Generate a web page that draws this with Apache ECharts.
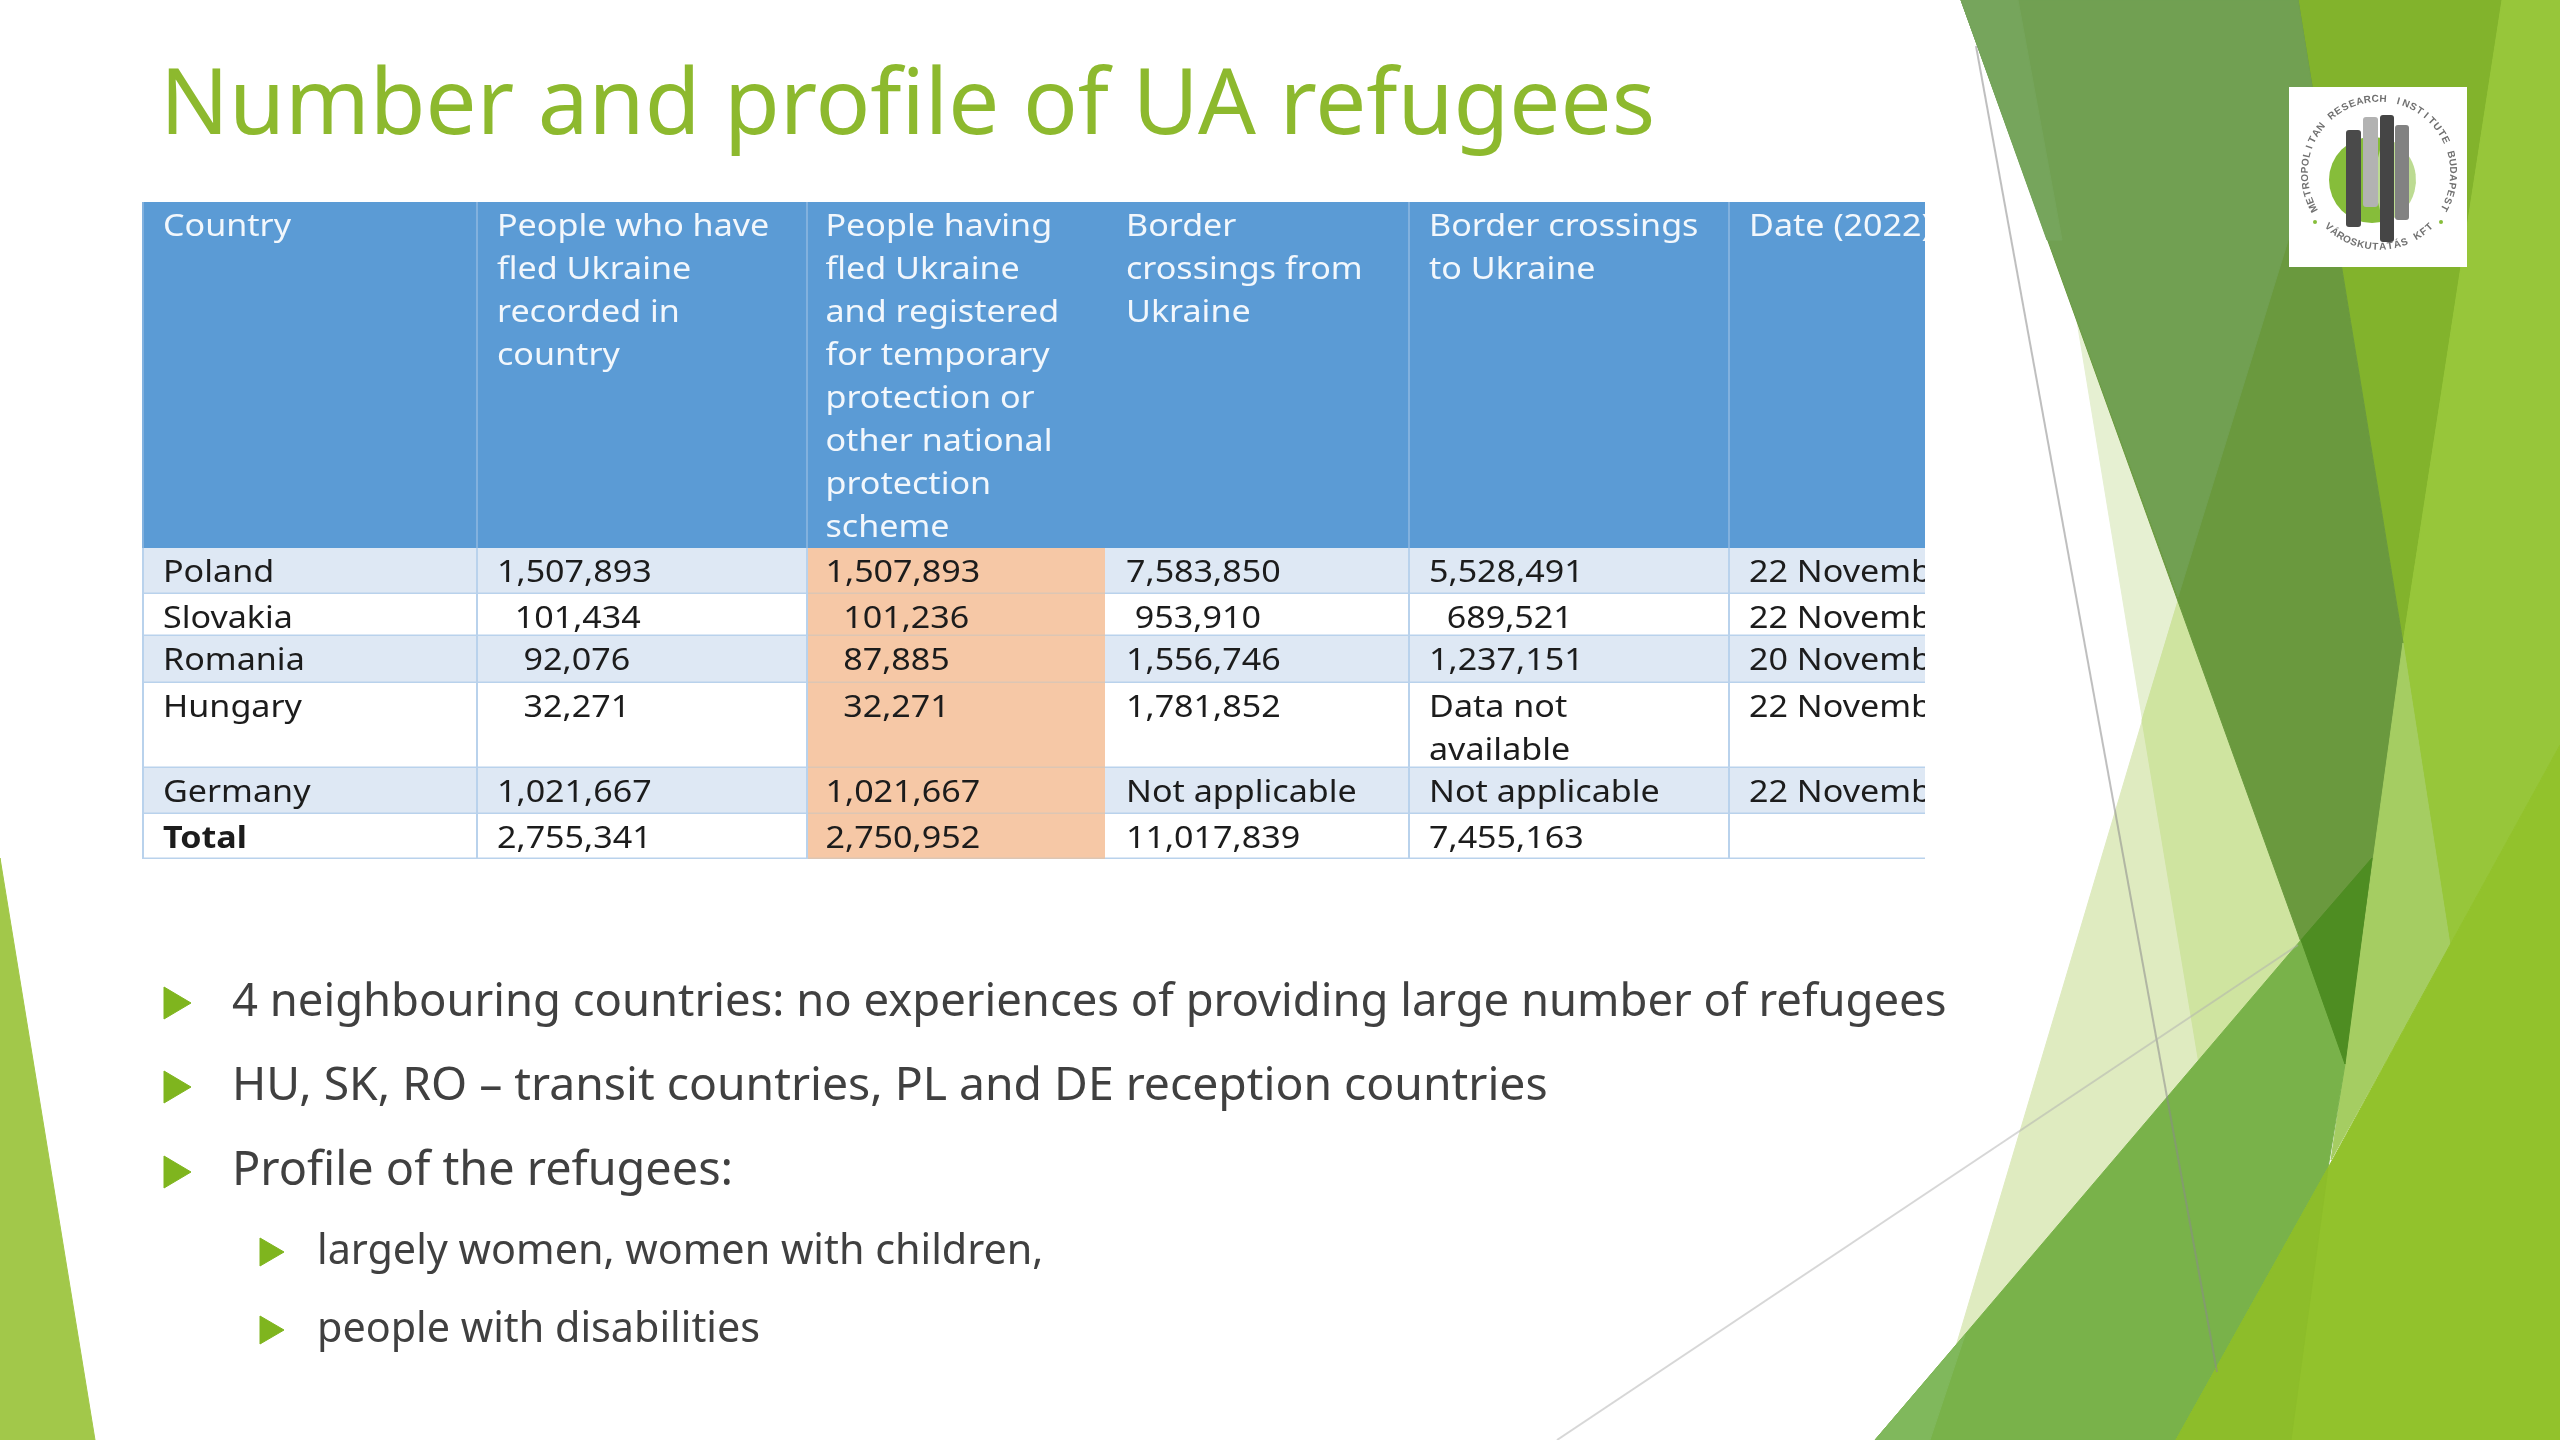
<!DOCTYPE html>
<html>
<head>
<meta charset="utf-8">
<title>Number and profile of UA refugees</title>
<style>html,body{margin:0;padding:0;background:#fff}</style>
</head>
<body>
<div id="main" style="width:2560px;height:1440px;"></div>
<script src="https://cdn.jsdelivr.net/npm/echarts@6/dist/echarts.min.js"></script>
<script type="text/javascript">
'use strict'

// table content, one list per column, first entry is the header
var countries = ['Country', 'Poland', 'Slovakia', 'Romania', 'Hungary', 'Germany', 'Total'];
var recorded = ['People who have\nfled Ukraine\nrecorded in\ncountry', '1,507,893', '  101,434', '   92,076', '   32,271', '1,021,667', '2,755,341'];
var registered = ['People having\nfled Ukraine\nand registered\nfor temporary\nprotection or\nother national\nprotection\nscheme', '1,507,893', '  101,236', '  87,885', '  32,271', '1,021,667', '2,750,952'];
var crossingsFrom = ['Border\ncrossings from\nUkraine', '7,583,850', ' 953,910', '1,556,746', '1,781,852', 'Not applicable', '11,017,839'];
var crossingsTo = ['Border crossings\nto Ukraine', '5,528,491', '  689,521', '1,237,151', 'Data not\navailable', 'Not applicable', '7,455,163'];
var dates = ['Date (2022)', '22 November', '22 November', '20 November', '22 November', '22 November', ''];
var tableColumns = [countries, recorded, registered, crossingsFrom, crossingsTo, dates];

var bullets = [
    '4 neighbouring countries: no experiences of providing large number of refugees',
    'HU, SK, RO \u2013 transit countries, PL and DE reception countries',
    'Profile of the refugees:'
];
var subBullets = ['largely women, women with children,', 'people with disabilities'];

// layout of the table, in pixels from its top left corner
var columnEdges = [0, 334, 664, 963, 1266, 1586, 1783];
var rowEdges = [0, 346, 392, 434, 481, 566, 612, 657];

var tableFont = '"Noto Sans"';
var bodyFont = '"Noto Sans"';

var cells = [];
tableColumns.forEach(function (col, c) {
    col.forEach(function (t, r) { cells.push([c, r]); });
});

function renderCell(params, api) {
    var c = api.value(0), r = api.value(1);
    var p0 = api.coord([columnEdges[c], rowEdges[r]]);
    var p1 = api.coord([columnEdges[c + 1], rowEdges[r + 1]]);
    var isHead = r === 0;
    var fill = isHead ? '#5b9bd5' : (r % 2 === 1 ? '#dee8f4' : '#ffffff');
    if (c === 2 && !isHead) fill = '#f6c8a6';
    var lineCol = isHead ? '#82b1de' : (c === 2 ? '#dcc6b4' : '#b9d2ec');
    var kids = [
        { type: 'rect', shape: { x: p0[0], y: p0[1], width: p1[0] - p0[0], height: p1[1] - p0[1] }, style: { fill: fill } },
        { type: 'line', shape: { x1: p0[0], y1: p1[1], x2: p1[0], y2: p1[1] }, style: { stroke: isHead ? '#5b9bd5' : lineCol, lineWidth: 3 } }
    ];
    if (c !== 3) {
        kids.push({ type: 'line', shape: { x1: p0[0] + 1, y1: p0[1], x2: p0[0] + 1, y2: p1[1] }, style: { stroke: isHead ? '#82b1de' : '#b9d2ec', lineWidth: 2 } });
    }
    kids.push({
        type: 'text',
        x: p0[0] + (c === 2 ? 19.5 : 21),
        y: p0[1] + 4,
        scaleX: 1.136,
        style: {
            text: tableColumns[c][r],
            fill: isHead ? '#f2f7fc' : '#1c1c1c',
            font: (c === 0 && r === 6 ? 'bold ' : '') + '30px ' + tableFont,
            lineHeight: 43,
            align: 'left',
            verticalAlign: 'top'
        }
    });
    return { type: 'group', children: kids };
}

function poly(points, fill, opacity) {
    return { type: 'polygon', silent: true, shape: { points: points }, style: { fill: fill, stroke: fill, lineWidth: 1, opacity: opacity === undefined ? 1 : opacity } };
}

// slide theme shapes
var shapes = [
    poly([[0, 858], [95, 1440], [0, 1440]], '#a2c84a'),
    poly([[2077, 321], [2301, 940], [2205, 1100]], '#e6f0d2'),
    poly([[2178, 601], [2301, 940], [1935, 1440], [1940, 1400]], '#dfebc0'),
    poly([[2142, 720], [2178, 601], [2301, 940], [2205, 1100]], '#cfe4a0'),
    poly([[2298, 0], [2502, 0], [2403, 643]], '#82b32c'),
    poly([[2502, 0], [2560, 0], [2560, 745], [2450, 945], [2403, 643]], '#97c63a'),
    poly([[1961, 0], [2298, 0], [2403, 643], [2345, 1064]], '#6a993e'),
    poly([[1961, 0], [2298, 0], [2320, 137], [2178, 597]], '#71a052'),
    poly([[1961, 0], [2018, 0], [2062, 240], [2047, 240]], '#76a55c'),
    poly([[2403, 643], [2450, 945], [2331, 1160], [2345, 1064]], '#a5cd62'),
    poly([[1875, 1440], [2301, 940], [2345, 1064], [2328, 1168], [2176, 1440]], '#79b24a'),
    poly([[1875, 1440], [1930, 1440], [1965, 1335]], '#80b85c'),
    poly([[2301, 940], [2372, 858], [2345, 1064]], '#4e8d22'),
    poly([[2176, 1440], [2328, 1168], [2450, 945], [2560, 745], [2560, 1440]], '#92c22c'),
    poly([[2176, 1440], [2291, 1440], [2328, 1168]], '#8dbd2a'),
    { type: 'line', silent: true, shape: { x1: 1976, y1: 46, x2: 2217, y2: 1372 }, style: { stroke: '#8a8a8a', opacity: 0.55, lineWidth: 2 } },
    { type: 'line', silent: true, shape: { x1: 1557, y1: 1440, x2: 2298, y2: 945 }, style: { stroke: '#b0b0b0', opacity: 0.5, lineWidth: 2 } }
];

// logo
var logoText = 'METROPOLITAN RESEARCH INSTITUTE BUDAPEST';
var logoSub = 'V\u00c1ROSKUTAT\u00c1S KFT';
var logo = [
    { type: 'rect', silent: true, shape: { x: 2289, y: 87, width: 178, height: 180 }, style: { fill: '#ffffff' } },
    { type: 'circle', silent: true, shape: { cx: 2372, cy: 180, r: 43 }, style: { fill: '#86bd3a' } },
    { type: 'sector', silent: true, shape: { cx: 2372, cy: 180, r: 44, startAngle: -Math.PI / 2.4, endAngle: Math.PI / 2.4 }, style: { fill: '#bcdb92' } },
    { type: 'rect', silent: true, shape: { x: 2346, y: 130, width: 15, height: 97, r: 3 }, style: { fill: '#4a4a4a' } },
    { type: 'rect', silent: true, shape: { x: 2363, y: 117, width: 15, height: 90, r: 3 }, style: { fill: '#b2b2b2' } },
    { type: 'rect', silent: true, shape: { x: 2380, y: 115, width: 14, height: 127, r: 3 }, style: { fill: '#454545' } },
    { type: 'rect', silent: true, shape: { x: 2395, y: 125, width: 14, height: 95, r: 3 }, style: { fill: '#828282' } },
    { type: 'circle', silent: true, shape: { cx: 2315, cy: 222, r: 2 }, style: { fill: '#86bd3a' } },
    { type: 'circle', silent: true, shape: { cx: 2441, cy: 222, r: 2 }, style: { fill: '#86bd3a' } }
];
logoText.split('').forEach(function (ch, i) {
    var a = (-118 + 236 * i / (logoText.length - 1)) * Math.PI / 180;
    logo.push({
        type: 'text', silent: true, x: 2379 + 74 * Math.sin(a), y: 173 - 74 * Math.cos(a), rotation: -a,
        style: { text: ch, fill: '#707070', font: 'bold 10px "Liberation Sans"', align: 'center', verticalAlign: 'middle' }
    });
});
logoSub.split('').forEach(function (ch, i) {
    var a = (-43 + 86 * i / (logoSub.length - 1)) * Math.PI / 180;
    logo.push({
        type: 'text', silent: true, x: 2379 + 74 * Math.sin(a), y: 173 + 74 * Math.cos(a), rotation: a,
        style: { text: ch, fill: '#707070', font: 'bold 10px "Liberation Sans"', align: 'center', verticalAlign: 'middle' }
    });
});

// bullet list
var textEls = [];
var bulletY = [1003, 1087, 1172];
var bulletSize = [45.4, 46.3, 46.8];
var subY = [1252, 1330];
bullets.forEach(function (t, i) {
    textEls.push(poly([[164, bulletY[i] - 16], [191, bulletY[i]], [164, bulletY[i] + 16]], '#7fb51e'));
    textEls.push({ type: 'text', silent: true, x: 232, y: bulletY[i], style: { text: t, fill: '#404040', font: bulletSize[i] + 'px ' + bodyFont, align: 'left', verticalAlign: 'middle' } });
});
subBullets.forEach(function (t, i) {
    textEls.push(poly([[260, subY[i] - 14], [284, subY[i]], [260, subY[i] + 14]], '#7fb51e'));
    textEls.push({ type: 'text', silent: true, x: 317, y: subY[i], style: { text: t, fill: '#404040', font: '41.3px ' + bodyFont, align: 'left', verticalAlign: 'middle' } });
});

var myChart = echarts.init(document.getElementById('main'));
var option = {
    animation: false,
    backgroundColor: '#ffffff',
    title: {
        text: 'Number and profile of UA refugees',
        left: 155,
        top: 58,
        textStyle: { color: '#8db92e', fontSize: 90.7, fontWeight: 'normal', fontFamily: bodyFont }
    },
    grid: { left: 142, top: 202, width: 1783, height: 657 },
    xAxis: { type: 'value', min: 0, max: 1783, show: false },
    yAxis: { type: 'value', min: 0, max: 657, inverse: true, show: false },
    graphic: { elements: shapes.concat(logo, textEls) },
    series: [{
        type: 'custom',
        clip: true,
        coordinateSystem: 'cartesian2d',
        renderItem: renderCell,
        data: cells,
        silent: true
    }]
};
myChart.setOption(option);
</script>
</body>
</html>
